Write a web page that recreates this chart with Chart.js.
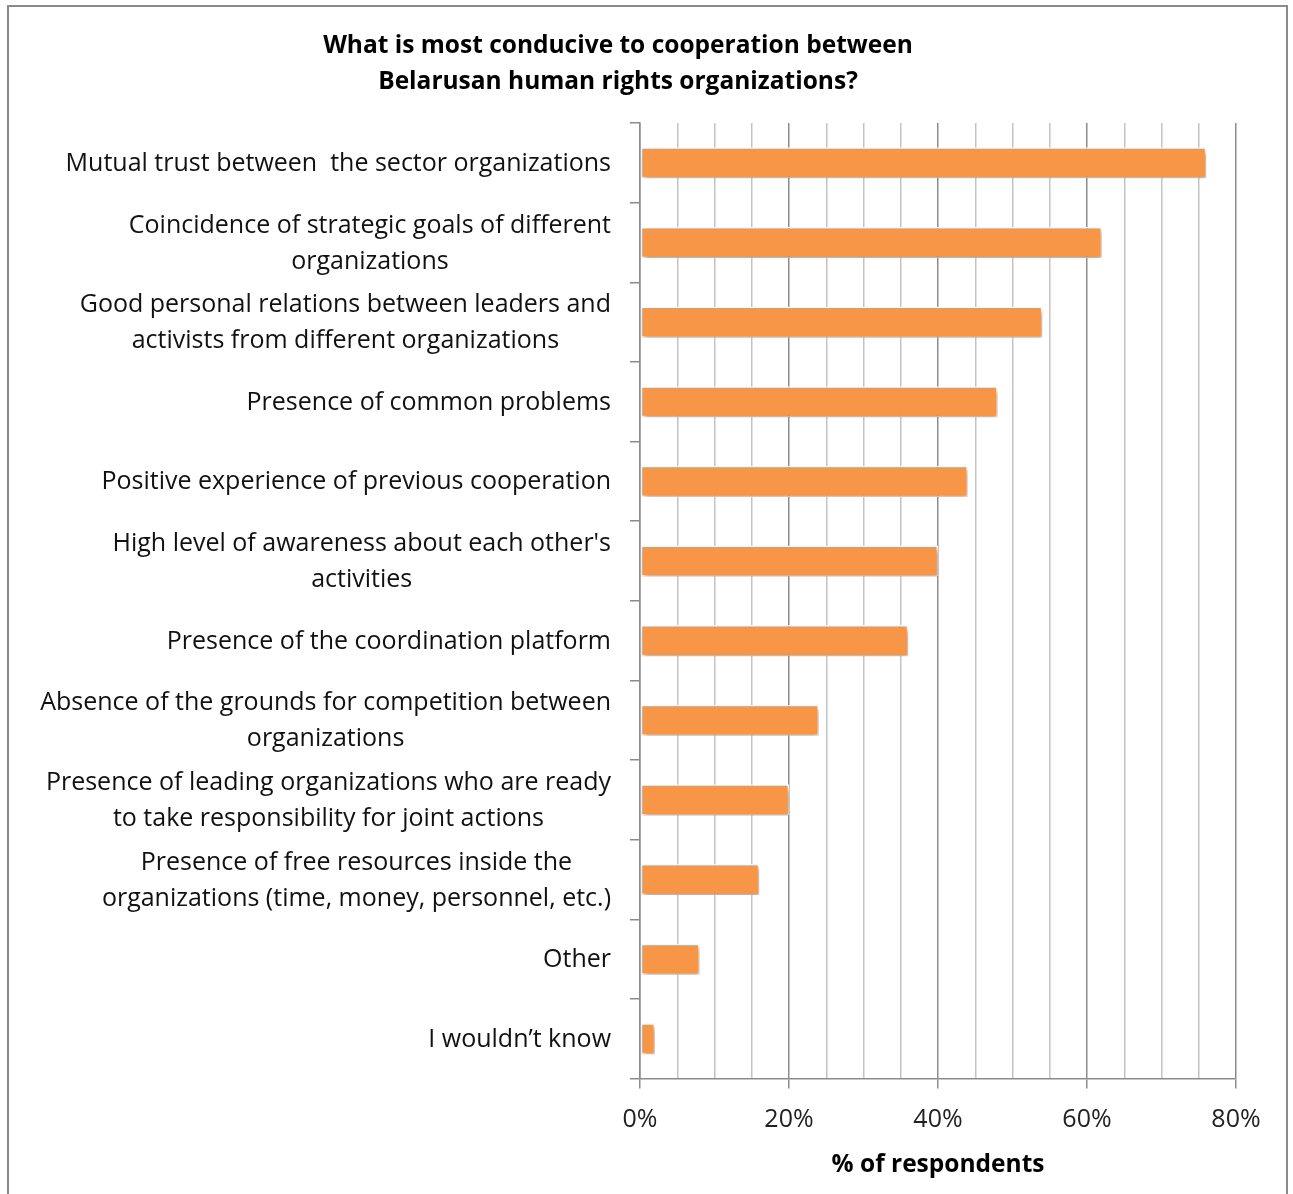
<!doctype html>
<html lang="en">
<head>
<meta charset="utf-8">
<title>Cooperation between human rights organizations</title>
<script src="https://cdn.jsdelivr.net/npm/chart.js@4.4.0/dist/chart.umd.min.js"></script>
<style>
  html, body { margin: 0; padding: 0; background: #fff; overflow: hidden; }
  #wrap { position: relative; width: 1293px; height: 1194px; }
  #frame { position: absolute; left: 7px; top: 5px; width: 1281px; height: 1200px; border: 2px solid #8a8a8a; box-sizing: border-box; pointer-events: none; }
  canvas { position: absolute; left: 0; top: 0; }
</style>
</head>
<body>
<div id="wrap">
  <canvas id="myChart" width="1293" height="1194"></canvas>
  <div id="frame"></div>
</div>
<script>
  // answers, top to bottom
  const answers = [
    "Mutual trust between  the sector organizations",
    ["Coincidence of strategic goals of different", "organizations"],
    ["Good personal relations between leaders and", "activists from different organizations"],
    "Presence of common problems",
    "Positive experience of previous cooperation",
    ["High level of awareness about each other's", "activities"],
    "Presence of the coordination platform",
    ["Absence of the grounds for competition between", "organizations"],
    ["Presence of leading organizations who are ready", "to take responsibility for joint actions"],
    ["Presence of free resources inside the", "organizations (time, money, personnel, etc.)"],
    "Other",
    "I wouldn\u2019t know"
  ];
  // % of respondents
  const shares = [76, 62, 54, 48, 44, 40, 36, 24, 20, 16, 8, 2];
  const xTicks = [0, 20, 40, 60, 80];

  const FONT = "'Open Sans', Lato, sans-serif";
  const LABEL_SIZE = 25;
  const LINE_H = 36;

  // soft drop shadow under the bars
  const barShadow = {
    id: 'barShadow',
    beforeDatasetDraw(chart) {
      const ctx = chart.ctx;
      ctx.save();
      ctx.shadowColor = 'rgba(0,0,0,0.35)';
      ctx.shadowBlur = 5;
      ctx.shadowOffsetX = 2;
      ctx.shadowOffsetY = 3;
    },
    afterDatasetDraw(chart) {
      chart.ctx.restore();
    }
  };

  // category labels: block right-aligned to the axis, lines centred inside the block
  const centredLabels = {
    id: 'centredLabels',
    afterDraw(chart) {
      const ctx = chart.ctx;
      const y = chart.scales.y;
      const right = y.right - 10 - 19;
      ctx.save();
      ctx.font = LABEL_SIZE + 'px ' + FONT;
      ctx.fillStyle = '#111';
      ctx.textAlign = 'center';
      ctx.textBaseline = 'middle';
      answers.forEach((a, i) => {
        const lines = Array.isArray(a) ? a : [a];
        const w = Math.max(...lines.map(l => ctx.measureText(l).width));
        const cx = right - w / 2;
        const cy = y.getPixelForValue(i) + 1;
        lines.forEach((l, k) => {
          ctx.fillText(l, cx, cy + (k - (lines.length - 1) / 2) * LINE_H);
        });
      });
      ctx.restore();
    }
  };

  const isMajor = v => xTicks.includes(v);

  new Chart(document.getElementById('myChart'), {
    type: 'bar',
    data: {
      labels: answers,
      datasets: [{
        data: shares,
        backgroundColor: '#F79646',
        borderColor: '#ffffff',
        borderWidth: 1.5,
        borderSkipped: false,
        categoryPercentage: 1,
        barPercentage: 0.39
      }]
    },
    options: {
      indexAxis: 'y',
      responsive: false,
      animation: false,
      events: [],
      layout: { padding: { top: 14, right: 57, bottom: 14, left: 0 } },
      plugins: {
        legend: { display: false },
        tooltip: { enabled: false },
        title: {
          display: true,
          text: ["What is most conducive to cooperation between", "Belarusan human rights organizations?"],
          color: '#000',
          font: { family: FONT, size: 24.5, weight: 'bold', lineHeight: 1.47 },
          padding: { top: 14, bottom: 23 }
        }
      },
      scales: {
        x: {
          min: 0,
          max: 80,
          ticks: {
            stepSize: 5,
            autoSkip: false,
            maxRotation: 0,
            color: '#222',
            padding: 16,
            font: { family: FONT, size: 25 },
            callback: v => isMajor(v) ? v + '%' : ''
          },
          grid: {
            color: c => isMajor(c.tick.value) ? '#8c8c8c' : '#c4c4c4',
            tickColor: c => isMajor(c.tick.value) ? '#8c8c8c' : 'rgba(0,0,0,0)',
            tickLength: 10,
            lineWidth: 1.5
          },
          border: { color: '#8c8c8c', width: 1.5 },
          title: {
            display: true,
            text: '% of respondents',
            color: '#000',
            font: { family: FONT, size: 24.5, weight: 'bold' },
            padding: { top: 0, bottom: 0 }
          }
        },
        y: {
          afterFit: s => { s.width = 640; },
          ticks: {
            autoSkip: false,
            callback: () => ''
          },
          grid: {
            drawOnChartArea: false,
            drawTicks: true,
            tickLength: 10,
            color: '#8c8c8c',
            lineWidth: 1.5
          },
          border: { color: '#8c8c8c', width: 1.5 }
        }
      }
    },
    plugins: [barShadow, centredLabels]
  });
</script>
</body>
</html>
